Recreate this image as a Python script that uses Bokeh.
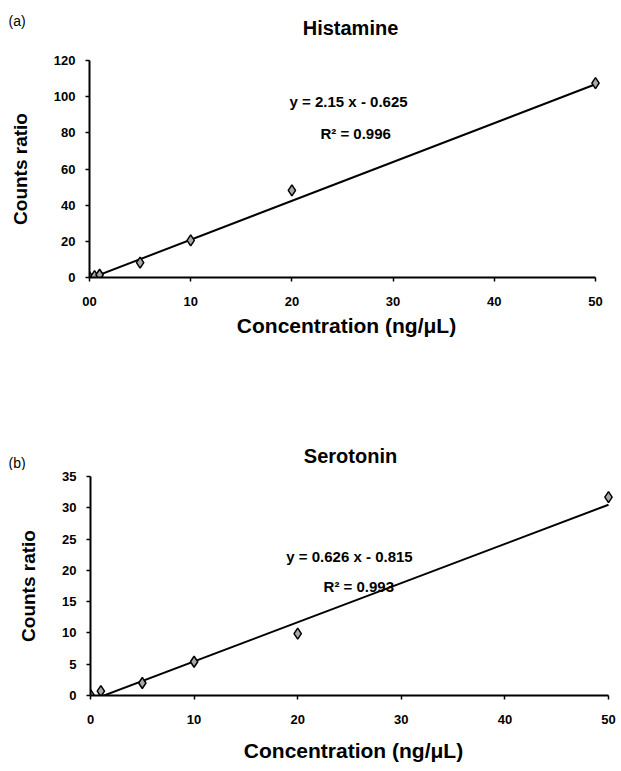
from bokeh.plotting import figure
from bokeh.models import Label, FixedTicker, Range1d
from bokeh.layouts import column, row
from bokeh.embed import file_html
from bokeh.resources import INLINE

# ---- data ----
hist_conc = [0, 0.5, 1, 5, 10, 20, 50]
hist_ratio = [0.2, 0.8, 1.5, 8.2, 20.5, 48.2, 107.5]
hist_slope, hist_intercept = 2.15, -0.625
hist_eq = "y = 2.15 x - 0.625"
hist_r2 = "R\u00b2 = 0.996"
hist_yticks = [0, 20, 40, 60, 80, 100, 120]

sero_conc = [0, 1, 5, 10, 20, 50]
sero_ratio = [0.1, 0.7, 2.0, 5.4, 9.9, 31.7]
sero_slope, sero_intercept = 0.626, -0.815
sero_eq = "y = 0.626 x - 0.815"
sero_r2 = "R\u00b2 = 0.993"
sero_yticks = [0, 5, 10, 15, 20, 25, 30, 35]

xticks = [0, 10, 20, 30, 40, 50]
x_label = "Concentration (ng/\u03bcL)"
y_label = "Counts ratio"

FONT = "Liberation Sans"
PAD = 8  # extra frame pixels to the right so the end marker is not clipped


def make_header(h, title, letter, tpos, lpos):
    hd = figure(width=621, height=h, output_backend="svg", toolbar_location=None,
                x_range=Range1d(0, 621), y_range=Range1d(0, h),
                x_axis_location=None, y_axis_location=None,
                min_border=0, title=None)
    hd.outline_line_color = None
    hd.xgrid.grid_line_color = None
    hd.ygrid.grid_line_color = None
    hd.add_layout(Label(x=tpos[0], y=h - tpos[1], text=title, text_font=FONT,
                        text_font_style="bold", text_font_size="20px",
                        text_align="center", text_baseline="middle", text_color="black"))
    hd.add_layout(Label(x=lpos[0], y=h - lpos[1], text=letter, text_font=FONT,
                        text_font_size="14px", text_align="left",
                        text_baseline="middle", text_color="black"))
    return hd


def make_panel(conc, ratio, slope, intercept, eq, r2, yticks, ymax,
               fw, fh, left, right, top, bottom, xlab_standoff, pos, xoverride):
    xend = 50 * (fw + PAD) / fw
    p = figure(frame_width=fw + PAD, frame_height=fh, output_backend="svg",
               toolbar_location=None,
               x_range=Range1d(0, xend), y_range=Range1d(0, ymax), title=None,
               min_border_left=left, min_border_right=right - PAD,
               min_border_top=top, min_border_bottom=bottom)
    p.outline_line_color = None
    p.xgrid.grid_line_color = None
    p.ygrid.grid_line_color = None
    p.background_fill_color = "white"
    p.border_fill_color = "white"

    for ax in (p.xaxis[0], p.yaxis[0]):
        ax.axis_line_color = "black"
        ax.axis_line_width = 2
        ax.major_tick_line_color = "black"
        ax.major_tick_line_width = 1.5
        ax.major_tick_in = 0
        ax.major_tick_out = 4
        ax.minor_tick_line_color = None
        ax.major_label_text_font = FONT
        ax.major_label_text_font_style = "bold"
        ax.major_label_text_font_size = "13px"
        ax.major_label_text_color = "black"
        ax.axis_label_text_font = FONT
        ax.axis_label_text_font_style = "bold"
        ax.axis_label_text_color = "black"

    p.xaxis.bounds = (0, 50)
    p.xaxis.axis_label_text_font_size = "21px"
    p.yaxis.axis_label_text_font_size = "19px"
    p.xaxis.ticker = FixedTicker(ticks=xticks)
    p.yaxis.ticker = FixedTicker(ticks=yticks)
    if xoverride:
        p.xaxis.major_label_overrides = xoverride
    p.xaxis.major_label_standoff = 15
    p.yaxis.major_label_standoff = 10
    p.xaxis.axis_label = x_label
    p.yaxis.axis_label = y_label
    p.xaxis.axis_label_standoff = xlab_standoff
    p.yaxis.axis_label_standoff = 20

    xs = [0, 50]
    ys = [slope * x + intercept for x in xs]
    p.line(xs, ys, line_color="black", line_width=2)
    p.scatter(conc, ratio, marker="diamond", size=11, line_color="black",
              line_width=1.5, fill_color="#a8a8a8")

    (ex, ey), (rx, ry) = pos
    p.add_layout(Label(x=ex, y=ey, text=eq, text_font=FONT, text_font_style="bold",
                       text_font_size="15px", text_align="center", text_baseline="middle",
                       text_color="black"))
    p.add_layout(Label(x=rx, y=ry, text=r2, text_font=FONT, text_font_style="bold",
                       text_font_size="15px", text_align="center", text_baseline="middle",
                       text_color="black"))
    return p


h1 = make_header(45, "Histamine", "(a)", (350, 27), (8, 20))
p1 = make_panel(hist_conc, hist_ratio, hist_slope, hist_intercept, hist_eq, hist_r2,
                hist_yticks, 120, 506, 217, 89, 26, 15, 108, 5,
                [(25.6, 97.3), (26.3, 79.6)], {0: "00"})
h2 = make_header(85, "Serotonin", "(b)", (350, 70), (8, 77))
p2 = make_panel(sero_conc, sero_ratio, sero_slope, sero_intercept, sero_eq, sero_r2,
                sero_yticks, 35, 518, 219, 90, 13, 6, 76, 12,
                [(25.0, 22.2), (25.9, 17.4)], None)

layout = column(row(h1), row(p1), row(h2), row(p2), spacing=0)
open("out.html", "w").write(file_html(layout, INLINE))
